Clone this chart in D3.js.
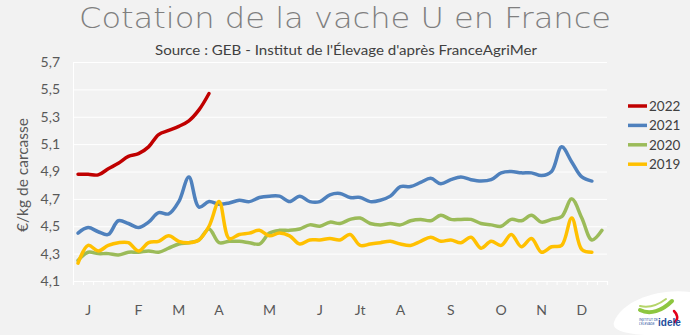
<!DOCTYPE html>
<html><head><meta charset="utf-8">
<script src="https://cdn.jsdelivr.net/npm/d3@7/dist/d3.min.js"></script>
<style>
html,body{margin:0;padding:0;background:#F2F2F2;}
svg{display:block;}
</style></head>
<body><div id="chart"></div>
<script>
// ---------- DATA ----------
const weeks = d3.range(1, 54); // 53 weekly categories
const monthLabels = ["", "J", "", "", "", "", "F", "", "", "", "M", "", "", "", "A", "", "", "", "", "M", "", "", "", "", "J", "", "", "", "Jt", "", "", "", "A", "", "", "", "", "S", "", "", "", "", "O", "", "", "", "N", "", "", "", "D", "", ""];
const yTicks = [4.1, 4.3, 4.5, 4.7, 4.9, 5.1, 5.3, 5.5, 5.7];
const seriesNames = ["2022", "2021", "2020", "2019"];
const v2022 = [4.88,4.88,4.875,4.92,4.96,5.01,5.03,5.08,5.17,5.20,5.23,5.27,5.35,5.47];
const v2021 = [4.45,4.49,4.46,4.44,4.54,4.52,4.49,4.53,4.60,4.59,4.68,4.86,4.64,4.68,4.66,4.67,4.69,4.68,4.71,4.72,4.72,4.68,4.72,4.68,4.68,4.73,4.74,4.71,4.71,4.68,4.69,4.72,4.79,4.79,4.82,4.85,4.81,4.84,4.86,4.84,4.83,4.84,4.89,4.90,4.89,4.89,4.87,4.90,5.08,4.97,4.86,4.83];
const v2020 = [4.25,4.31,4.30,4.30,4.29,4.31,4.31,4.32,4.31,4.34,4.37,4.38,4.40,4.48,4.38,4.39,4.39,4.38,4.37,4.45,4.47,4.47,4.48,4.51,4.50,4.53,4.52,4.55,4.56,4.52,4.51,4.52,4.51,4.54,4.55,4.54,4.58,4.55,4.55,4.55,4.52,4.51,4.50,4.55,4.54,4.58,4.53,4.55,4.57,4.70,4.56,4.40,4.47];
const v2019 = [4.23,4.36,4.32,4.36,4.38,4.38,4.32,4.38,4.39,4.43,4.39,4.38,4.40,4.50,4.68,4.41,4.44,4.45,4.47,4.43,4.45,4.43,4.37,4.40,4.40,4.41,4.40,4.44,4.36,4.37,4.38,4.39,4.37,4.36,4.39,4.42,4.39,4.40,4.38,4.42,4.34,4.39,4.36,4.44,4.35,4.41,4.31,4.35,4.36,4.56,4.33,4.31];
const seriesValues = [v2022, v2021, v2020, v2019];
const colors = ["#C00000", "#4F81BD", "#9BBB59", "#FFC000"];

// ---------- LAYOUT ----------
const W = 690, H = 335;
const plotLeft = 73, plotRight = 607, plotTop = 62, plotBottom = 281;
const textColor = "#595959";
const font = "Lato, 'Open Sans', sans-serif";

const svg = d3.select("#chart").append("svg").attr("width", W).attr("height", H);
svg.append("rect").attr("width", W).attr("height", H).attr("fill", "#F2F2F2");

const x = d3.scaleBand().domain(weeks).range([plotLeft, plotRight]).padding(0);
const xTicksScale = d3.scaleLinear().domain([0, weeks.length]).range([plotLeft, plotRight]);
const y = d3.scaleLinear().domain([4.1, 5.7]).range([plotBottom, plotTop]);

// Title
svg.append("text").attr("x", 345).attr("y", 28).attr("text-anchor", "middle")
  .attr("font-family", "'DejaVu Sans', sans-serif").attr("font-weight", 200)
  .attr("font-size", 28).attr("fill", "#7F7F7F")
  .attr("textLength", 532).attr("lengthAdjust", "spacingAndGlyphs")
  .text("Cotation de la vache U en France");
svg.append("text").attr("x", 346).attr("y", 55).attr("text-anchor", "middle")
  .attr("font-family", font).attr("font-size", 14).attr("fill", "#404040")
  .attr("textLength", 382).attr("lengthAdjust", "spacingAndGlyphs")
  .text("Source : GEB - Institut de l'Élevage d'après FranceAgriMer");

// Y axis with gridlines
const fmt = d => d3.format(".1f")(d).replace(".", ",");
const yAxis = svg.append("g").attr("transform", `translate(${plotLeft},0)`)
  .call(d3.axisLeft(y).tickValues(yTicks).tickSize(-(plotRight - plotLeft)).tickPadding(13).tickFormat(fmt));
yAxis.select(".domain").attr("stroke", "#FFFFFF").attr("stroke-width", 1);
yAxis.selectAll(".tick line").attr("stroke", "#FFFFFF").attr("stroke-width", 1);
yAxis.selectAll(".tick text").attr("font-family", font).attr("font-size", 14).attr("fill", textColor);

// X axis: tick marks between categories
const xAxisTicks = svg.append("g").attr("transform", `translate(0,${plotBottom})`)
  .call(d3.axisBottom(xTicksScale).tickValues(d3.range(0, weeks.length + 1)).tickSize(4).tickFormat(""));
xAxisTicks.select(".domain").attr("stroke", "#FFFFFF").attr("stroke-width", 1.2);
xAxisTicks.selectAll(".tick line").attr("stroke", "#FFFFFF").attr("stroke-width", 1);

// X labels at category centers
const xAxisLabels = svg.append("g").attr("transform", `translate(0,${plotBottom})`)
  .call(d3.axisBottom(x).tickSize(0).tickPadding(24).tickFormat((d, i) => monthLabels[i]));
xAxisLabels.select(".domain").remove();
xAxisLabels.selectAll(".tick text").attr("font-family", font).attr("font-size", 14).attr("fill", textColor);

// Y axis title
svg.append("text").attr("transform", "translate(28,175) rotate(-90)").attr("text-anchor", "middle")
  .attr("font-family", font).attr("font-size", 15.5).attr("fill", textColor)
  .text("€/kg de carcasse");

// Lines
const line = d3.line()
  .x((d, i) => x(weeks[i]) + x.bandwidth() / 2)
  .y(d => y(d))
  .curve(d3.curveCatmullRom.alpha(0.5));
seriesValues.forEach((vals, k) => {
  svg.append("path").datum(vals).attr("d", line).attr("fill", "none")
    .attr("stroke", colors[k]).attr("stroke-width", 3.5)
    .attr("stroke-linejoin", "round").attr("stroke-linecap", "round");
});

// Legend
const leg = svg.append("g");
seriesNames.forEach((n, k) => {
  const ly = 106 + k * 19.4;
  leg.append("line").attr("x1", 628).attr("x2", 647).attr("y1", ly).attr("y2", ly)
    .attr("stroke", colors[k]).attr("stroke-width", 3.5);
  leg.append("text").attr("x", 649).attr("y", ly + 5).attr("font-family", font)
    .attr("font-size", 13.5).attr("fill", "#404040").text(n);
});

// Logo (Institut de l'Élevage)
const logo = svg.append("g");
logo.append("path").attr("d", "M614,322 C622,300 660,288 690,292 L690,335 L645,335 C628,334 611,331 614,322 Z")
  .attr("fill", "#FFFFFF");
logo.append("path").attr("d", "M640,310 C650,315 662,311 672,301").attr("fill", "none")
  .attr("stroke", "#8DC63F").attr("stroke-width", 4).attr("stroke-linecap", "round");
logo.append("path").attr("d", "M640,306 C648,308 658,305 666,299").attr("fill", "none")
  .attr("stroke", "#B5D56A").attr("stroke-width", 2).attr("stroke-linecap", "round");
logo.append("path").attr("d", "M674,311 C677,314 679,318 675,322").attr("fill", "none")
  .attr("stroke", "#E2001A").attr("stroke-width", 2.5).attr("stroke-linecap", "round");
logo.append("text").attr("x", 639).attr("y", 321).attr("font-family", font).attr("font-size", 3.2)
  .attr("fill", "#1F4E9C").text("INSTITUT DE");
logo.append("text").attr("x", 639).attr("y", 325).attr("font-family", font).attr("font-size", 3.2)
  .attr("fill", "#1F4E9C").text("L'ÉLEVAGE");
logo.append("text").attr("x", 658).attr("y", 326).attr("font-family", "'Liberation Sans Narrow', 'Liberation Sans', sans-serif")
  .attr("font-weight", "bold").attr("font-size", 10).attr("fill", "#1F4E9C").text("idele");
</script>
</body></html>
